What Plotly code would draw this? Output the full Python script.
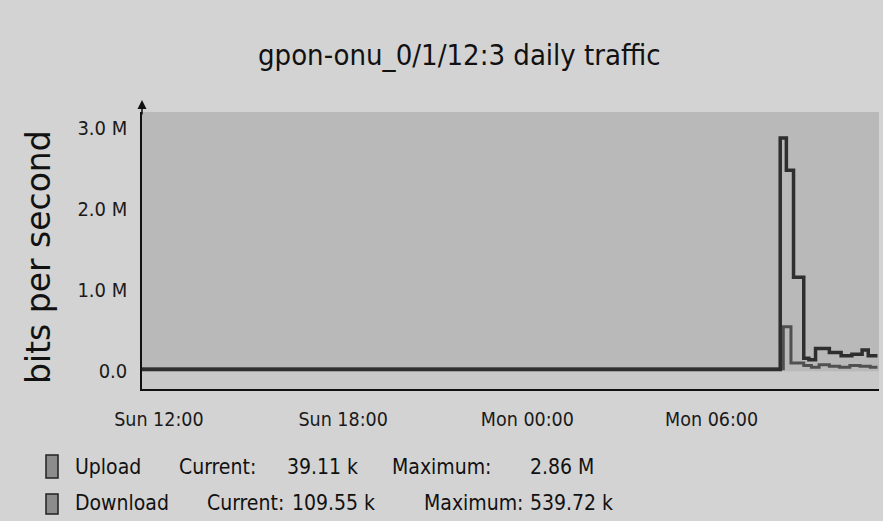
import plotly.graph_objects as go

# ---------------- data ----------------
upload_times = [
    "2016-01-03 11:27", "2016-01-04 08:14", "2016-01-04 08:26", "2016-01-04 08:40",
    "2016-01-04 09:00", "2016-01-04 09:10", "2016-01-04 09:23", "2016-01-04 09:50",
    "2016-01-04 10:13", "2016-01-04 10:34", "2016-01-04 10:54", "2016-01-04 11:06",
    "2016-01-04 11:24",
]
upload_bps = [
    20e3, 2.88e6, 2.48e6, 1.16e6,
    0.16e6, 0.14e6, 0.28e6, 0.23e6,
    0.19e6, 0.21e6, 0.26e6, 0.19e6,
    0.19e6,
]
download_times = [
    "2016-01-03 11:27", "2016-01-04 08:20", "2016-01-04 08:35", "2016-01-04 09:00",
    "2016-01-04 09:15", "2016-01-04 09:30", "2016-01-04 09:50", "2016-01-04 10:10",
    "2016-01-04 10:30", "2016-01-04 10:50", "2016-01-04 11:10", "2016-01-04 11:24",
]
download_bps = [
    30e3, 0.55e6, 0.10e6, 0.07e6,
    0.05e6, 0.08e6, 0.06e6, 0.05e6,
    0.07e6, 0.06e6, 0.05e6, 0.05e6,
]
y_tick_vals = [0, 1e6, 2e6, 3e6]
y_tick_text = ["0.0", "1.0 M", "2.0 M", "3.0 M"]
x_tick_vals = ["2016-01-03 12:00", "2016-01-03 18:00", "2016-01-04 00:00", "2016-01-04 06:00"]
x_range = ["2016-01-03 11:27", "2016-01-04 11:27"]
y_range = [-0.22e6, 3.2e6]

title_text = "gpon-onu_0/1/12:3 daily traffic"
legend_rows = [
    [("Upload", 73), ("Current:", 177), ("39.11 k", 285), ("Maximum:", 390), ("2.86 M", 528)],
    [("Download", 73), ("Current:", 205), ("109.55 k", 290), ("Maximum:", 422), ("539.72 k", 528)],
]

# ---------------- layout geometry ----------------
W, H = 883, 521
L, R, T, B = 142, 4, 112, 132
PW, PH = W - L - R, H - T - B


def px(x):
    return (x - L) / PW


def py(y):
    return (H - B - y) / PH


NARROW = "DejaVu Sans Condensed, sans-serif"

fig = go.Figure()
fig.add_trace(go.Scatter(x=download_times, y=download_bps, mode="lines", line_shape="hv",
                         line=dict(color="#505050", width=3), name="Download"))
fig.add_trace(go.Scatter(x=upload_times, y=upload_bps, mode="lines", line_shape="hv",
                         line=dict(color="#2e2e2e", width=3.5), name="Upload"))

fig.update_layout(
    width=W, height=H,
    margin=dict(l=L, r=R, t=T, b=B, autoexpand=False),
    paper_bgcolor="#d3d3d3",
    plot_bgcolor="#b9b9b9",
    showlegend=False,
    font=dict(family=NARROW, color="#1a1a1a"),
)
fig.update_xaxes(
    range=x_range, tickvals=x_tick_vals, tickformat="%a %H:%M",
    showgrid=False, zeroline=False, showline=True, linecolor="#111", linewidth=2,
    ticks="", ticklabelstandoff=12, tickfont=dict(size=19.5, family=NARROW, color="#1a1a1a"),
)
fig.update_yaxes(
    range=y_range, tickvals=y_tick_vals, ticktext=y_tick_text,
    showgrid=False, zeroline=False, showline=True, linecolor="#111", linewidth=1.5,
    ticks="", ticklabelstandoff=9, tickfont=dict(size=20, family=NARROW, color="#1a1a1a"),
)

# lighter band below zero
fig.add_shape(type="rect", xref="paper", x0=0, x1=1, yref="y", y0=y_range[0], y1=0,
              fillcolor="#c9c9c9", line=dict(width=0), layer="below")

annotations = []
annotations.append(dict(text=title_text, x=px(459), y=py(55), xref="paper", yref="paper",
                        showarrow=False, xanchor="center", yanchor="middle",
                        font=dict(size=29, family=NARROW, color="#111")))
annotations.append(dict(text="bits per second", x=px(38), y=py(257), xref="paper", yref="paper",
                        showarrow=False, xanchor="center", yanchor="middle", textangle=-90,
                        font=dict(size=33, family="DejaVu Sans, sans-serif", color="#111")))
annotations.append(dict(text="", x=0, y=py(100), xref="paper", yref="paper",
                        showarrow=True, ax=0, ay=16, arrowhead=2, arrowsize=1.2,
                        arrowwidth=1.5, arrowcolor="#111"))
row_y = [467, 503]
for row, yy in zip(legend_rows, row_y):
    for txt, xx in row:
        annotations.append(dict(text=txt, x=px(xx), y=py(yy), xref="paper", yref="paper",
                                showarrow=False, xanchor="left", yanchor="middle",
                                font=dict(size=21, family=NARROW, color="#111")))
fig.update_layout(annotations=annotations)

swatches = [(46, 58, 455, 478), (46, 58, 494, 514)]
for x0, x1, y0, y1 in swatches:
    fig.add_shape(type="rect", xref="paper", yref="paper",
                  x0=px(x0), x1=px(x1), y0=py(y1), y1=py(y0),
                  fillcolor="#8c8c8c", line=dict(color="#222", width=1.5))

fig.write_html("out.html", config={"displayModeBar": False},
               post_script="document.body.style.margin='0';"
                           "document.body.style.background='#d3d3d3';")
